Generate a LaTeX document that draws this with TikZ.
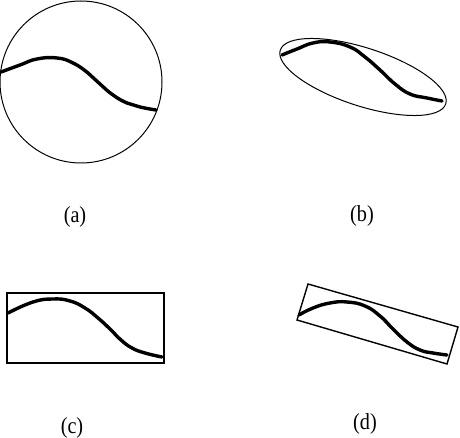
\documentclass[tikz,border=0pt]{standalone}
\usepackage{fontspec}
\setmainfont{Liberation Serif}
\begin{document}
\begin{tikzpicture}[x=1pt,y=-1pt,
  wave/.style={line width=3.4pt,line cap=round,line join=round},
  thin outline/.style={line width=1pt},
  box outline/.style={line width=1.8pt},
  tilted outline/.style={line width=1.4pt,line join=miter},
  caption/.style={inner sep=0pt,font=\fontsize{23}{26}\selectfont,xscale=0.88}]
\useasboundingbox (0,0) rectangle (460,438);
% (a)
\draw[thin outline] (81,82) circle [radius=81];
\draw[wave] plot[smooth,tension=0.8] coordinates {(1,72) (20,65) (37,59) (57,58) (73,63) (88,73) (100,84) (113,95) (127,103) (140,107) (156,110)};
\node[caption] (la) at (75,217) {(a)};
% (b)
\draw[thin outline,shift={(363,77)},rotate=-18] (0,0) ellipse [x radius=87,y radius=29];
\draw[wave] plot[smooth,tension=0.8] coordinates {(282,55) (297,49) (313,43) (330,42) (350,47) (365,57) (380,70) (395,84) (410,94) (427,98) (442,101)};
\node[caption] (lb) at (362,216) {(b)};
% (c)
\draw[box outline] (7,293) rectangle (164,363);
\draw[wave] plot[smooth,tension=0.8] coordinates {(8,313) (33,302) (53,299) (70,301) (85,308) (98,318) (110,329) (121,340) (132,348) (145,353) (162,357)};
\node[caption] (lc) at (72,428) {(c)};
% (d)
\draw[tilted outline] (308,284) -- (458,327) -- (447,364) -- (297,320) -- cycle;
\draw[wave] plot[smooth,tension=0.8] coordinates {(299,315) (313,308) (330,303) (347,302) (365,306) (380,316) (393,329) (407,342) (420,350) (433,353) (447,355)};
\node[caption] (ld) at (365,424) {(d)};
\end{tikzpicture}
\end{document}
